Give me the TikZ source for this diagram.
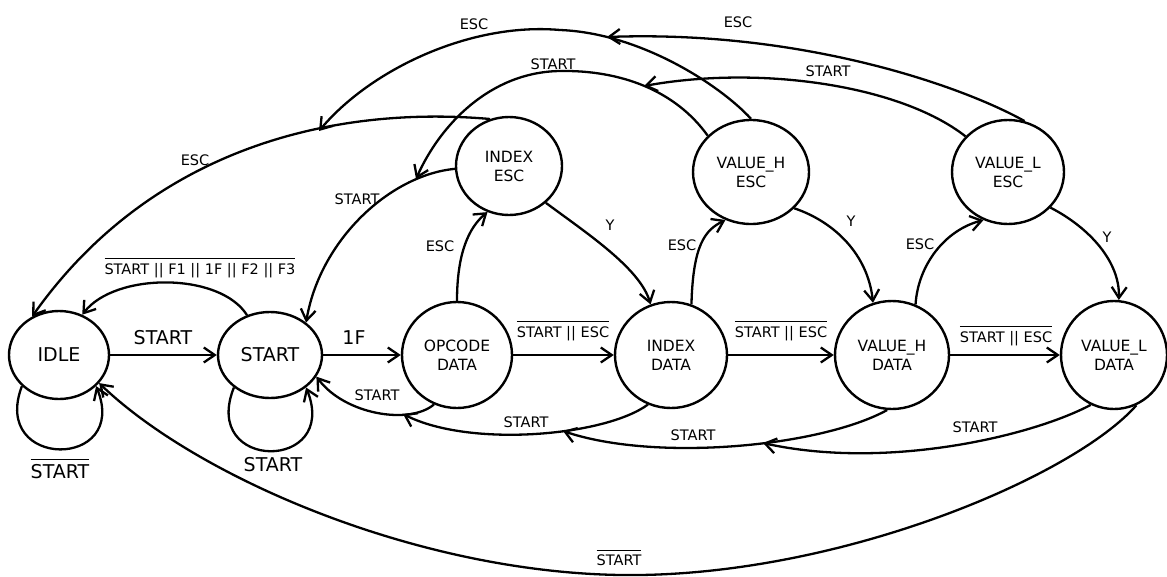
\documentclass[tikz,border=0pt]{standalone}
\usepackage{fontspec}
\setmainfont{DejaVu Sans}
\usetikzlibrary{shapes.geometric,arrows.meta}
\newsavebox\ovlbox
\newcommand\ovl[1]{\sbox\ovlbox{#1}\vbox{\hrule height 1.3pt width \wd\ovlbox\kern 4pt\copy\ovlbox}}
\tikzset{
  state/.style={draw, ellipse, line width=2.4pt, inner sep=0pt, align=center,
    font=\fontsize{15.5}{19}\selectfont},
  bigstate/.style={state, font=\fontsize{19}{23}\selectfont},
  tr/.style={line width=2.3pt, -{Straight Barb[length=11pt,width=15pt]}},
  lbl/.style={inner sep=0pt, font=\fontsize{14.5}{17}\selectfont},
  biglbl/.style={inner sep=0pt, font=\fontsize{19}{23}\selectfont},
}
\begin{document}
\begin{tikzpicture}[x=1pt,y=-1pt]
\path[use as bounding box, fill=white] (0,0) rectangle (1167,576);

% states
\node[bigstate, minimum width=100pt, minimum height=88pt] (idle) at (59,355) {IDLE};
\node[bigstate, minimum width=104pt, minimum height=86pt] (start) at (270,355) {START};
\node[state, minimum width=110pt, minimum height=106pt] (opc) at (457,355) {OPCODE\\DATA};
\node[state, minimum width=112pt, minimum height=106pt] (idat) at (671,355) {INDEX\\DATA};
\node[state, minimum width=114pt, minimum height=108pt] (vhd) at (892,355) {VALUE\_H\\DATA};
\node[state, minimum width=106pt, minimum height=108pt] (vld) at (1114,355) {VALUE\_L\\DATA};
\node[state, minimum width=106pt, minimum height=98pt] (iesc) at (509,166) {INDEX\\ESC};
\node[state, minimum width=116pt, minimum height=104pt] (vhesc) at (751,172) {VALUE\_H\\ESC};
\node[state, minimum width=112pt, minimum height=104pt] (vlesc) at (1008,172) {VALUE\_L\\ESC};

% merge points
\coordinate (m1) at (403,414);
\coordinate (m2) at (563,431);
\coordinate (m3) at (763,443);
\coordinate (m4) at (416,179);
\coordinate (m5) at (644,86);
\coordinate (m6) at (607,37);
\coordinate (m7) at (319,131);

% main line
\draw[tr] (idle) -- (start);
\node[biglbl] (l1) at (163,338) {START};
\draw[tr] (start) -- (opc);
\node[biglbl] (l2) at (354,338) {1F};
\draw[tr] (opc) -- (idat);
\node[lbl] (l3) at (563,331) {\ovl{START || ESC}};
\draw[tr] (idat) -- (vhd);
\node[lbl] (l4) at (781,331) {\ovl{START || ESC}};
\draw[tr] (vhd) -- (vld);
\node[lbl] (l5) at (1006,336) {\ovl{START || ESC}};

% self loops
\draw[tr] (idle.220) .. controls (-10,470) and (130,470) .. (idle.-40);
\node[biglbl] (l6) at (60,469) {\ovl{START}};
\draw[tr] (start.222) .. controls (200,472) and (340,472) .. (start.-42);
\node[biglbl] (l7) at (273,465) {START};

% START -> IDLE
\draw[tr] (start.120) .. controls (220,272) and (115,272) .. (idle.60);
\node[lbl] (l8) at (200,268) {\ovl{START || F1 || 1F || F2 || F3}};

% ESC / Y transitions
\draw[tr] (opc.90) .. controls (457,255) and (468,228) .. (iesc.245);
\node[lbl] (l9) at (440,246) {ESC};
\draw[tr] (iesc.-45) .. controls (585,232) and (640,268) .. (idat.112);
\node[lbl] (l10) at (610,225) {Y};
\draw[tr] (idat.68) .. controls (693,245) and (705,230) .. (vhesc.242);
\node[lbl] (l11) at (682,245) {ESC};
\draw[tr] (vhesc.-40) .. controls (835,222) and (868,255) .. (vhd.110);
\node[lbl] (l12) at (851,221) {Y};
\draw[tr] (vhd.65) .. controls (918,265) and (945,230) .. (vlesc.243);
\node[lbl] (l13) at (920,244) {ESC};
\draw[tr] (vlesc.-40) .. controls (1090,228) and (1120,262) .. (vld.85);
\node[lbl] (l14) at (1107,237) {Y};

% START returns (bottom)
\draw[tr] (opc.245) .. controls (410,425) and (345,415) .. (start.-25);
\node[lbl] (l15) at (377,395) {START};
\draw[tr] (idat.245) .. controls (605,436) and (470,448) .. (m1);
\node[lbl] (l16) at (526,422) {START};
\draw[tr] (vhd.265) .. controls (820,447) and (655,462) .. (m2);
\node[lbl] (l17) at (693,435) {START};
\draw[tr] (vld.245) .. controls (1030,437) and (885,470) .. (m3);
\node[lbl] (l18) at (975,427) {START};

% big bottom arc
\draw[tr] (vld.294) .. controls (1075,475) and (850,572) .. (640,575)
   .. controls (430,578) and (200,480) .. (idle.-35);
\node[lbl] (l19) at (619,558) {\ovl{START}};

% top arcs
\draw[tr] (iesc.112) .. controls (330,105) and (150,150) .. (idle.125);
\node[lbl] (l20) at (195,160) {ESC};
\draw[tr] (vhesc.90) .. controls (720,85) and (640,33) .. (560,30)
   .. controls (470,22) and (370,70) .. (m7);
\node[lbl] (l21) at (474,24) {ESC};
\draw[tr] (vlesc.72) .. controls (960,85) and (800,30) .. (m6);
\node[lbl] (l22) at (738,22) {ESC};
\draw[tr] (iesc.183) .. controls (390,175) and (320,240) .. (start.42);
\node[lbl] (l23) at (357,199) {START};
\draw[tr] (vhesc.140) .. controls (675,90) and (620,70) .. (560,71)
   .. controls (490,72) and (440,125) .. (m4);
\node[lbl] (l24) at (553,64) {START};
\draw[tr] (vlesc.140) .. controls (900,85) and (760,65) .. (m5);
\node[lbl] (l25) at (828,71) {START};
\end{tikzpicture}
\end{document}
